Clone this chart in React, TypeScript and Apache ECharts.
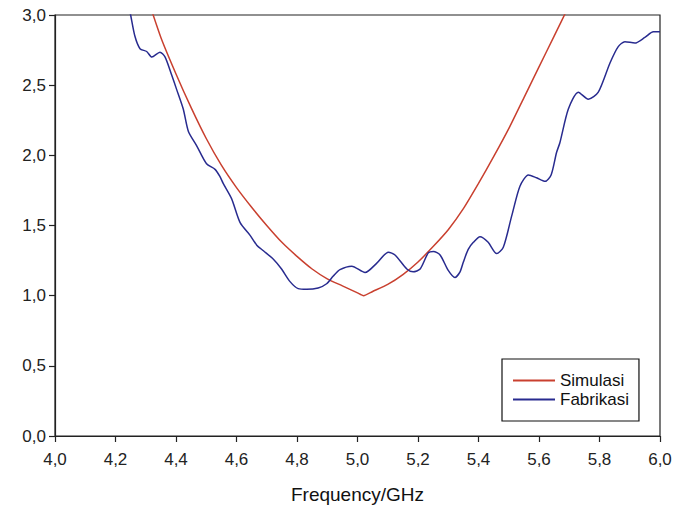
import React, { useEffect, useRef } from "react";
import * as echarts from "echarts";

const xTickMin = 4.0;
const xTickMax = 6.0;
const yTickMin = 0;
const yTickMax = 3.0;

const simFreq = [4.30, 4.35, 4.40, 4.45, 4.50, 4.55, 4.60, 4.65, 4.70, 4.75, 4.80, 4.85, 4.90, 4.95, 5.00, 5.02, 5.05, 5.10, 5.15, 5.20, 5.25, 5.30, 5.35, 5.40, 5.45, 5.50, 5.55, 5.60, 5.65, 5.70];
const simVswr = [3.16, 2.84, 2.58, 2.34, 2.12, 1.93, 1.77, 1.63, 1.50, 1.38, 1.28, 1.19, 1.12, 1.07, 1.02, 1.00, 1.03, 1.08, 1.15, 1.24, 1.35, 1.47, 1.62, 1.80, 1.99, 2.19, 2.41, 2.63, 2.85, 3.07];

const fabFreq = [4.245, 4.250, 4.264, 4.281, 4.303, 4.320, 4.347, 4.364, 4.386, 4.402, 4.424, 4.441, 4.468, 4.501, 4.529, 4.545, 4.556, 4.584, 4.612, 4.645, 4.667, 4.689, 4.722, 4.749, 4.777, 4.804, 4.832, 4.870, 4.898, 4.920, 4.942, 4.981, 5.025, 5.063, 5.102, 5.124, 5.163, 5.184, 5.207, 5.234, 5.251, 5.273, 5.300, 5.322, 5.339, 5.350, 5.366, 5.383, 5.405, 5.432, 5.460, 5.482, 5.510, 5.537, 5.565, 5.592, 5.620, 5.640, 5.658, 5.669, 5.697, 5.730, 5.763, 5.796, 5.835, 5.862, 5.884, 5.917, 5.950, 5.978, 6.000];
const fabVswr = [3.05, 3.00, 2.85, 2.76, 2.74, 2.70, 2.735, 2.70, 2.57, 2.47, 2.33, 2.17, 2.07, 1.94, 1.90, 1.85, 1.80, 1.69, 1.52, 1.43, 1.36, 1.32, 1.26, 1.19, 1.10, 1.05, 1.045, 1.055, 1.085, 1.14, 1.185, 1.21, 1.165, 1.23, 1.31, 1.29, 1.19, 1.17, 1.19, 1.305, 1.315, 1.29, 1.18, 1.13, 1.17, 1.24, 1.33, 1.38, 1.42, 1.38, 1.30, 1.345, 1.57, 1.78, 1.86, 1.84, 1.815, 1.86, 2.02, 2.09, 2.33, 2.45, 2.40, 2.45, 2.66, 2.775, 2.81, 2.80, 2.84, 2.88, 2.88];

const seriesNames = ["Simulasi", "Fabrikasi"];
const xAxisTitle = "Frequency/GHz";

const FONT = "'Liberation Sans', Arial, sans-serif";
const RED = "#c9402f";
const BLUE = "#282b8f";

const fmt = (v: number) => v.toFixed(1).replace(".", ",");

export default function App() {
  const ref = useRef<HTMLDivElement>(null);
  useEffect(() => {
    if (!ref.current) return;
    const chart = echarts.init(ref.current, undefined, { renderer: "svg" });
    const simData = simFreq.map((f, i) => [f, simVswr[i]]);
    const fabData = fabFreq.map((f, i) => [f, fabVswr[i]]);
    chart.setOption({
      animation: false,
      backgroundColor: "#ffffff",
      grid: {
        left: 55,
        right: 27,
        top: 15,
        bottom: 71,
        show: true,
        borderColor: "#222",
        borderWidth: 1.2,
        backgroundColor: "transparent",
      },
      legend: {
        data: seriesNames,
        orient: "vertical",
        left: 502,
        top: 359,
        padding: [12, 10, 12, 11],
        itemGap: 0,
        itemWidth: 42,
        itemHeight: 2,
        icon: "rect",
        borderColor: "#111",
        borderWidth: 1.2,
        backgroundColor: "#fff",
        textStyle: { fontFamily: FONT, fontSize: 17, color: "#111", lineHeight: 19 },
      },
      xAxis: {
        type: "value",
        min: xTickMin,
        max: xTickMax,
        interval: 0.2,
        name: xAxisTitle,
        nameLocation: "middle",
        nameGap: 49,
        nameTextStyle: { fontFamily: FONT, fontSize: 19, color: "#111" },
        axisLine: { lineStyle: { color: "#222", width: 1.2 } },
        axisTick: { inside: false, length: 6, lineStyle: { color: "#222", width: 1.2 } },
        axisLabel: { formatter: fmt, fontFamily: FONT, fontSize: 17, color: "#222", margin: 15 },
        splitLine: { show: false },
      },
      yAxis: {
        type: "value",
        min: yTickMin,
        max: yTickMax,
        interval: 0.5,
        axisLine: { show: true, lineStyle: { color: "#222", width: 1.2 } },
        axisTick: { show: true, inside: false, length: 6, lineStyle: { color: "#222", width: 1.2 } },
        axisLabel: { formatter: fmt, fontFamily: FONT, fontSize: 17, color: "#222", margin: 9 },
        splitLine: { show: false },
      },
      series: [
        {
          name: seriesNames[0],
          type: "line",
          data: simData,
          showSymbol: false,
          clip: true,
          smooth: 0.2,
          color: RED,
          lineStyle: { color: RED, width: 1.5 },
          itemStyle: { color: RED },
        },
        {
          name: seriesNames[1],
          type: "line",
          data: fabData,
          showSymbol: false,
          clip: true,
          smooth: 0.25,
          color: BLUE,
          lineStyle: { color: BLUE, width: 1.5 },
          itemStyle: { color: BLUE },
        },
      ],
    });
    return () => chart.dispose();
  }, []);
  return (
    <div
      ref={ref}
      style={{ position: "fixed", left: 0, top: 0, width: 687, height: 509, background: "#fff" }}
    />
  );
}
